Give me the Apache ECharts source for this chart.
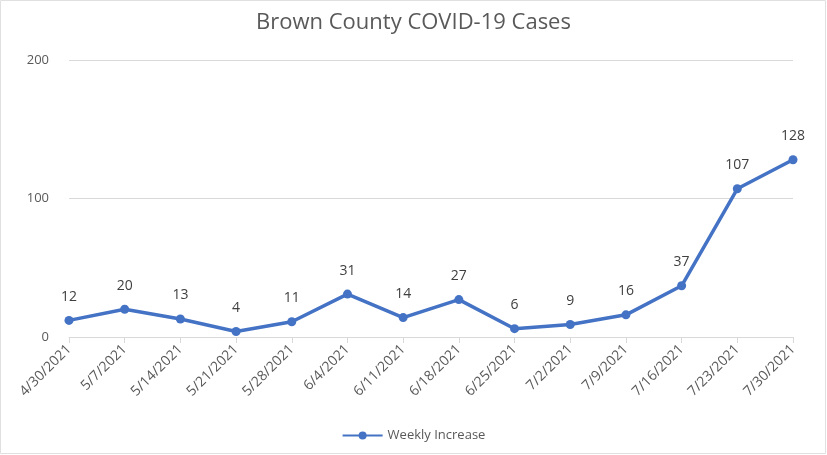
<!DOCTYPE html>
<html><head><meta charset="utf-8">
<script src="https://cdn.jsdelivr.net/npm/echarts@6/dist/echarts.min.js"></script>
<style>html,body{margin:0;padding:0;background:#fff}#c{width:827px;height:455px}</style>
</head><body><div id="c"></div>
<script>
const categories = ["4/30/2021","5/7/2021","5/14/2021","5/21/2021","5/28/2021","6/4/2021","6/11/2021","6/18/2021","6/25/2021","7/2/2021","7/9/2021","7/16/2021","7/23/2021","7/30/2021"];
const weeklyIncrease = [12,20,13,4,11,31,14,27,6,9,16,37,107,128];
const seriesName = "Weekly Increase";
const FONT = "'Liberation Sans Narrow','Open Sans',sans-serif";
const chart = echarts.init(document.getElementById('c'));
chart.setOption({
  animation:false,
  title:{text:"Brown County COVID-19 Cases",left:'center',top:7,textStyle:{fontFamily:FONT,fontSize:22,fontWeight:'normal',color:'#595959'}},
  grid:{left:69,right:34,top:60,bottom:118},
  legend:{bottom:8,left:'center',itemWidth:40,itemHeight:10,textStyle:{fontFamily:FONT,fontSize:13,color:'#595959'},data:[seriesName]},
  xAxis:{type:'category',data:categories,boundaryGap:false,
    axisLine:{lineStyle:{color:'#d9d9d9'}},
    axisTick:{show:true,alignWithLabel:true,length:6,lineStyle:{color:'#d9d9d9'}},
    axisLabel:{rotate:45,interval:0,fontFamily:FONT,fontSize:14,color:'#595959',margin:10}},
  yAxis:{type:'value',min:0,max:200,interval:100,
    axisLine:{show:false},axisTick:{show:false},
    splitLine:{lineStyle:{color:'#d9d9d9'}},
    axisLabel:{fontFamily:FONT,fontSize:13,color:'#595959',margin:20}},
  series:[{name:seriesName,type:'line',data:weeklyIncrease,symbol:'circle',symbolSize:9,
    lineStyle:{color:'#4472C4',width:3.5},itemStyle:{color:'#4472C4'},
    label:{show:true,position:'top',distance:12,fontFamily:FONT,fontSize:14,color:'#404040'}}],
  graphic:[{type:'rect',shape:{x:0.5,y:0.5,width:825,height:453},style:{fill:'none',stroke:'#e0e0e0',lineWidth:1}}]
});
</script></body></html>
